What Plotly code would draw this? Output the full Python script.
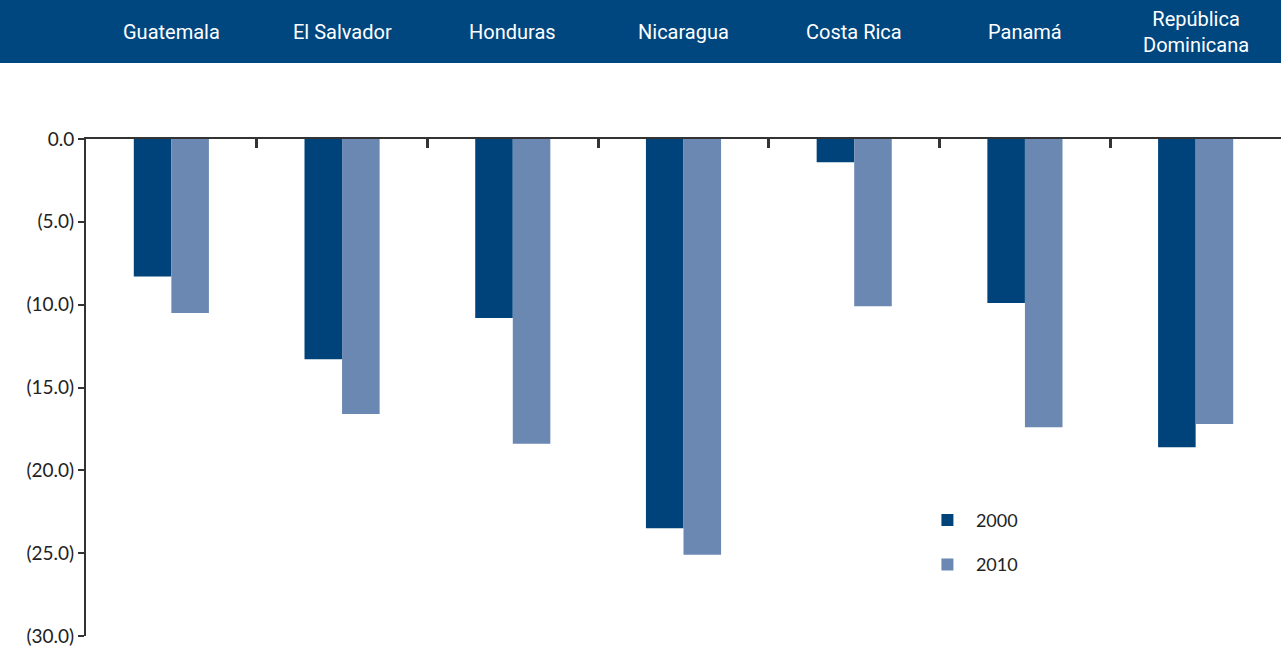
import plotly.graph_objects as go

countries = ["Guatemala", "El Salvador", "Honduras", "Nicaragua", "Costa Rica", "Panamá", "República<br>Dominicana"]
values_2000 = [-8.3, -13.3, -10.8, -23.5, -1.4, -9.9, -18.6]
values_2010 = [-10.5, -16.6, -18.4, -25.1, -10.1, -17.4, -17.2]
y_tickvals = [0, -5, -10, -15, -20, -25, -30]
y_ticktext = ["0.0", "(5.0)", "(10.0)", "(15.0)", "(20.0)", "(25.0)", "(30.0)"]

DARK = "#00437A"
LIGHT = "#6A88B1"
W, H = 1281, 649
ML, MT, MB, MR = 86, 139, 13, 0
ph = H - MT - MB
pw = W - ML - MR

fig = go.Figure()
fig.add_trace(go.Bar(x=countries, y=values_2000, name="2000", marker_color=DARK,
                     marker_line_width=0, legendgroup="a"))
fig.add_trace(go.Bar(x=countries, y=values_2010, name="2010", marker_color=LIGHT,
                     marker_line_width=0, legendgroup="b"))

# header banner
fig.add_shape(type="rect", xref="paper", yref="paper",
              x0=-ML / pw, x1=1.0, y0=1 + (MT - 63) / ph, y1=1 + MT / ph,
              fillcolor="#00467F", line_width=0, layer="above")
for c in countries:
    fig.add_annotation(x=c, xref="x", y=1 + (MT - 32) / ph, yref="paper",
                       text=c, showarrow=False, yanchor="middle",
                       font=dict(family="Roboto", size=20, color="white"))

fig.update_layout(
    width=W, height=H,
    margin=dict(l=ML, r=MR, t=MT, b=MB, pad=0),
    plot_bgcolor="white", paper_bgcolor="white",
    barmode="group", bargap=0.56, bargroupgap=0,
    font=dict(family="Lato", size=18, color="#222"),
    showlegend=True,
    legend=dict(x=0.697, y=0.27, xanchor="left", yanchor="top",
                tracegroupgap=18, traceorder="grouped", itemwidth=47,
                font=dict(family="Lato", size=18, color="#222"),
                bgcolor="rgba(0,0,0,0)"),
    xaxis=dict(side="top", showticklabels=False, showline=True, linecolor="#333",
               linewidth=2, ticks="inside", ticklen=9, tickwidth=3, tickcolor="#333",
               tickson="boundaries", showgrid=False, zeroline=False,
               range=[-0.5, 6.5]),
    yaxis=dict(range=[-30, 0], tickvals=y_tickvals, ticktext=y_ticktext,
               showline=True, linecolor="#333", linewidth=2, ticks="outside",
               ticklen=6, tickwidth=2, tickcolor="#333", showgrid=False,
               zeroline=False, tickfont=dict(family="Lato", size=19, color="#222")),
)

fig.write_html("out.html", config={"displayModeBar": False},
               post_script="document.body.style.margin='0px';")
